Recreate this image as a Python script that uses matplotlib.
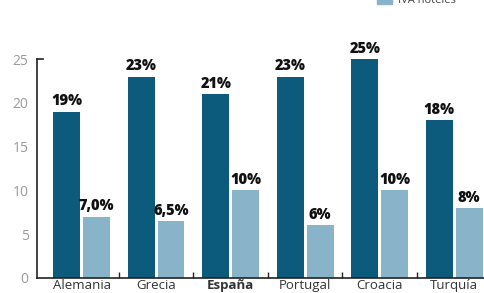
import matplotlib.pyplot as plt
import matplotlib.patches as patches
import numpy as np

paises = ["Alemania", "Grecia", "España", "Portugal", "Croacia", "Turquía"]
iva_general = [19, 23, 21, 23, 25, 18]
iva_hoteles = [7.0, 6.5, 10, 6, 10, 8]
etiquetas_general = ["19%", "23%", "21%", "23%", "25%", "18%"]
etiquetas_hoteles = ["7,0%", "6,5%", "10%", "6%", "10%", "8%"]
y_ticks = [0, 5, 10, 15, 20, 25]

DARK = "#0c5b7d"
LIGHT = "#88b3c8"

plt.rcParams['font.family'] = ['Open Sans', 'DejaVu Sans']


def main():
    fig = plt.figure(figsize=(4.84, 2.93), dpi=100)
    ax = fig.add_axes([0.0764, 0.0512, 0.9236, 0.7474])

    x = np.arange(len(paises))
    w = 0.36
    ax.bar(x - 0.2, iva_general, width=w, color=DARK)
    ax.bar(x + 0.2, iva_hoteles, width=w, color=LIGHT)

    for i in range(len(paises)):
        ax.text(x[i] - 0.2, iva_general[i] + 0.25, etiquetas_general[i],
                ha='center', va='bottom', fontsize=10.5, fontweight='heavy',
                color='#111111')
        ax.text(x[i] + 0.2, iva_hoteles[i] + 0.25, etiquetas_hoteles[i],
                ha='center', va='bottom', fontsize=10.5, fontweight='heavy',
                color='#111111')

    ax.set_xlim(-0.6, 5.4)
    ax.set_ylim(0, 25)
    ax.set_yticks(y_ticks)
    ax.set_yticklabels([str(v) for v in y_ticks], color='#9a9a9a', fontsize=10)
    ax.tick_params(axis='y', length=0, pad=6)

    ax.set_xticks(x)
    ax.set_xticklabels(paises, fontsize=9.5, color='#333333')
    ax.tick_params(axis='x', length=0, pad=1)
    ax.get_xticklabels()[2].set_fontweight('bold')
    ax.set_xticks(x[:-1] + 0.5, minor=True)
    ax.tick_params(axis='x', which='minor', direction='in', length=4,
                   width=1, color='#222222')

    for s in ['top', 'right']:
        ax.spines[s].set_visible(False)
    ax.spines['left'].set_color('#222222')
    ax.spines['bottom'].set_color('#222222')
    ax.spines['left'].set_linewidth(1.2)
    ax.spines['bottom'].set_linewidth(1.2)
    ax.plot([-0.6, -0.52], [25, 25], color='#222222', lw=1.2, clip_on=False)

    # legend entry, cut off at top edge like the reference
    fig.patches.append(patches.Rectangle((0.779, 0.985), 0.031, 0.03,
                                         transform=fig.transFigure,
                                         color=LIGHT))
    fig.text(0.822, 0.998, "IVA hoteles", fontsize=8, color='#444444',
             va='center', ha='left')

    fig.savefig("out.png", dpi=100)


if __name__ == "__main__":
    main()
